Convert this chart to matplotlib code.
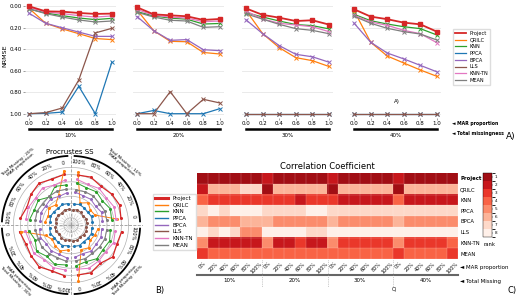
import numpy as np
import matplotlib
matplotlib.use('Agg')
import matplotlib.pyplot as plt
from matplotlib.lines import Line2D
from matplotlib.colors import ListedColormap, BoundaryNorm

W, H = 520, 296

methods = ['Project', 'QRILC', 'KNN', 'PPCA', 'BPCA', 'LLS', 'KNN-TN', 'MEAN']
colors = ['tab:red', 'tab:orange', 'tab:green', 'tab:blue',
          'tab:purple', 'tab:brown', 'tab:pink', 'tab:gray']
mar = [0.0, 0.2, 0.4, 0.6, 0.8, 1.0]
mar_labels = ['0%', '20%', '40%', '60%', '80%', '100%']
total_missing = ['10%', '20%', '30%', '40%']

# NRMSE, one row per total missingness (10..40%), columns = MAR proportion
nrmse_project = [[0.00, 0.047, 0.05, 0.062, 0.071, 0.068],
                 [0.01, 0.075, 0.084, 0.093, 0.127, 0.118],
                 [0.02, 0.08, 0.106, 0.137, 0.13, 0.17],
                 [0.028, 0.096, 0.12, 0.152, 0.168, 0.236]]
nrmse_qrilc = [[0.02, 0.158, 0.21, 0.255, 0.30, 0.31],
               [0.035, 0.227, 0.326, 0.33, 0.43, 0.444],
               [0.04, 0.255, 0.385, 0.478, 0.506, 0.56],
               [0.043, 0.335, 0.463, 0.528, 0.593, 0.652]]
nrmse_knn = [[0.025, 0.062, 0.087, 0.109, 0.124, 0.112],
             [0.05, 0.09, 0.11, 0.12, 0.165, 0.16],
             [0.06, 0.10, 0.137, 0.17, 0.18, 0.21],
             [0.075, 0.134, 0.165, 0.19, 0.208, 0.267]]
nrmse_ppca = [[1.0, 0.997, 0.985, 0.745, 1.0, 0.52],
              [1.0, 0.97, 1.0, 1.0, 1.0, 0.953],
              [1.0, 1.0, 1.0, 1.0, 1.0, 1.0],
              [1.0, 1.0, 1.0, 1.0, 1.0, 1.0]]
nrmse_bpca = [[0.065, 0.158, 0.20, 0.24, 0.28, 0.28],
              [0.096, 0.227, 0.317, 0.31, 0.404, 0.413],
              [0.127, 0.255, 0.366, 0.447, 0.47, 0.52],
              [0.158, 0.335, 0.435, 0.49, 0.55, 0.61]]
nrmse_lls = [[1.0, 0.99, 0.947, 0.686, 0.248, 0.205],
             [1.0, 1.0, 0.795, 1.0, 0.866, 0.90],
             [1.0, 1.0, 1.0, 1.0, 1.0, 1.0],
             [1.0, 1.0, 1.0, 1.0, 1.0, 1.0]]
nrmse_knntn = [[0.012, 0.053, 0.068, 0.087, 0.10, 0.09],
               [0.03, 0.084, 0.10, 0.11, 0.143, 0.137],
               [0.045, 0.118, 0.158, 0.174, 0.19, 0.236],
               [0.084, 0.146, 0.177, 0.224, 0.255, 0.339]]
nrmse_mean = [[0.025, 0.068, 0.10, 0.127, 0.146, 0.137],
              [0.056, 0.10, 0.13, 0.137, 0.196, 0.19],
              [0.07, 0.12, 0.168, 0.208, 0.224, 0.255],
              [0.093, 0.158, 0.205, 0.236, 0.258, 0.314]]
nrmse_all = [nrmse_project, nrmse_qrilc, nrmse_knn, nrmse_ppca,
             nrmse_bpca, nrmse_lls, nrmse_knntn, nrmse_mean]

# Procrustes SS radar (ring position, 24 conditions: 4 x 6)
pss_project = [7.0, 7.3, 7.1, 6.8, 7.2, 7.0, 7.1, 6.9, 7.3, 7.0, 6.6, 7.1,
               7.2, 6.8, 7.0, 7.3, 6.9, 7.1, 7.0, 7.2, 6.7, 7.3, 6.9, 7.1]
pss_qrilc = [6.4, 3.6, 3.4, 3.9, 3.3, 7.4, 7.6, 4.5, 3.5, 3.9, 3.4, 3.6,
             7.0, 3.8, 3.3, 3.6, 3.9, 3.5, 7.8, 3.7, 4.0, 3.4, 3.6, 3.8]
pss_knn = [5.7, 5.9, 5.5, 5.8, 5.6, 5.9, 5.6, 5.8, 4.9, 5.7, 5.5, 5.8,
           5.9, 5.4, 6.0, 5.5, 5.9, 5.6, 5.7, 5.5, 5.9, 5.6, 5.8, 5.5]
pss_ppca = [3.0, 3.1, 2.9, 3.0, 3.1, 2.9, 3.0, 3.1, 2.9, 3.0, 3.1, 2.9,
            3.0, 3.1, 2.9, 3.0, 3.1, 2.9, 3.0, 3.1, 2.9, 3.0, 3.1, 2.9]
pss_bpca = [4.4, 4.6, 4.3, 4.5, 4.4, 4.6, 4.5, 4.3, 4.6, 4.4, 4.5, 4.3,
            4.4, 4.6, 4.3, 4.5, 4.4, 4.6, 4.5, 4.3, 4.6, 4.4, 4.5, 4.3]
pss_lls = [2.2, 2.3, 2.1, 2.2, 2.3, 2.1, 2.2, 2.3, 2.1, 2.2, 2.3, 2.1,
           2.2, 2.3, 2.1, 2.2, 2.3, 2.1, 2.2, 2.3, 2.1, 2.2, 2.3, 2.1]
pss_knntn = [6.3, 6.5, 6.2, 6.4, 6.1, 6.4, 6.3, 6.0, 6.5, 6.2, 6.4, 6.3,
             6.4, 6.2, 6.5, 6.1, 6.4, 6.3, 6.2, 6.5, 6.3, 6.1, 6.4, 6.2]
pss_mean = [5.0, 5.1, 4.9, 5.1, 5.0, 4.9, 5.0, 5.1, 5.0, 4.9, 5.1, 5.0,
            5.0, 4.9, 5.1, 5.0, 4.9, 5.1, 5.0, 5.1, 4.9, 5.0, 5.1, 5.0]
pss_all = [pss_project, pss_qrilc, pss_knn, pss_ppca,
           pss_bpca, pss_lls, pss_knntn, pss_mean]

# Correlation coefficient ranks (1 = best), 24 conditions
rank_project = [1, 1, 1, 1, 1, 1, 2, 1, 1, 1, 1, 1, 2, 1, 1, 1, 1, 1, 2, 1, 1, 1, 1, 1]
rank_qrilc = [2, 6, 6, 6, 7, 7, 1, 6, 6, 6, 6, 6, 1, 6, 6, 6, 6, 6, 1, 6, 6, 6, 6, 6]
rank_knn = [4, 3, 3, 3, 3, 3, 3, 3, 3, 2, 3, 3, 3, 2, 2, 2, 2, 2, 4, 2, 2, 2, 2, 2]
rank_ppca = [7, 8, 7, 8, 8, 8, 7, 7, 7, 7, 8, 8, 7, 7, 7, 7, 7, 7, 7, 7, 7, 7, 7, 7]
rank_bpca = [6, 5, 5, 5, 6, 6, 6, 5, 5, 5, 5, 5, 6, 5, 5, 5, 5, 5, 6, 5, 5, 5, 5, 5]
rank_lls = [8, 7, 8, 7, 5, 5, 8, 8, 8, 8, 7, 7, 8, 8, 8, 8, 8, 8, 8, 8, 8, 8, 8, 8]
rank_knntn = [5, 2, 2, 2, 2, 2, 5, 2, 2, 3, 2, 2, 5, 3, 3, 3, 3, 3, 5, 3, 3, 3, 3, 4]
rank_mean = [3, 4, 4, 4, 4, 4, 4, 4, 4, 4, 4, 4, 4, 4, 4, 4, 4, 4, 3, 4, 4, 4, 4, 3]
rank_all = [rank_project, rank_qrilc, rank_knn, rank_ppca,
            rank_bpca, rank_lls, rank_knntn, rank_mean]


def fx(x):
    return x / W


def fy(y):
    return 1 - y / H


def rect(l, t, r, b):
    return [fx(l), fy(b), (r - l) / W, (b - t) / H]


fig = plt.figure(figsize=(W / 100, H / 100), dpi=100)
fs = 4

# ---------------- A) NRMSE line panels ----------------
lefts = [25, 133, 242, 350]
for i in range(4):
    ax = fig.add_axes(rect(lefts[i], 2, lefts[i] + 91, 118))
    for m in range(len(methods)):
        if m == 0:
            ax.plot(mar, nrmse_all[m][i], color=colors[m], marker='s', ms=2.6,
                    lw=1.3, zorder=10)
        else:
            ax.plot(mar, nrmse_all[m][i], color=colors[m], marker='x', ms=2.2,
                    mew=0.7, lw=0.9, zorder=6 if m == 5 else 4)
    ax.set_xlim(-0.05, 1.05)
    ax.set_ylim(1.04, -0.04)
    ax.set_yticks([0, 0.2, 0.4, 0.6, 0.8, 1.0])
    ax.set_xticks(mar)
    ax.set_xticklabels(['%.1f' % v for v in mar], fontsize=fs)
    ax.grid(axis='y', color='#e6e6e6', lw=0.6)
    ax.tick_params(length=1.5, width=0.4, pad=1, labelsize=fs, color='#555555')
    for s in ax.spines.values():
        s.set_visible(False)
    if i == 0:
        ax.set_yticklabels(['%.2f' % v for v in [0, 0.2, 0.4, 0.6, 0.8, 1.0]])
    else:
        ax.tick_params(axis='y', left=False, labelleft=False)
    x0 = lefts[i] + 4
    fig.add_artist(Line2D([fx(x0), fx(x0 + 83)], [fy(129), fy(129)],
                          color='black', lw=1.8))
    fig.text(fx(x0 + 41.5), fy(135), total_missing[i], fontsize=fs,
             ha='center', va='center')
fig.text(fx(5), fy(56), 'NRMSE', fontsize=4.6, rotation=90, ha='center',
         va='center')

handles = [Line2D([], [], color=c, lw=1.3 if k == 0 else 0.9)
           for k, c in enumerate(colors)]
fig.legend(handles, methods, loc='upper left', bbox_to_anchor=(fx(450), fy(26)),
           fontsize=3.6, handlelength=2.2, labelspacing=0.35, borderpad=0.4,
           frameon=True, edgecolor='#dddddd', framealpha=1, fancybox=False)
fig.text(fx(452), fy(124), '\u25c4 MAR proportion', fontsize=3.3, weight='bold',
         va='center')
fig.text(fx(452), fy(134), '\u25c4 Total missingness', fontsize=3.3, weight='bold',
         va='center')
fig.text(fx(397), fy(102), 'A)', fontsize=fs, ha='center', va='center')
fig.text(fx(511), fy(137), 'A)', fontsize=6.5, ha='center', va='center')

# ---------------- B) Procrustes SS radar ----------------
cx, cy, R = 71, 225, 72
pax = fig.add_axes(rect(cx - R, cy - R, cx + R, cy + R), projection='polar')
theta = np.deg2rad(7.5 + 15 * np.arange(24))
pax.set_ylim(0, 10)
pax.set_yticks([1, 2, 3, 4, 5, 6, 7, 8])
pax.set_yticklabels([])
pax.set_xticks(np.deg2rad([0, 90, 180, 270]))
pax.set_xticklabels([])
pax.grid(True, color='#b0b0b0', lw=0.5)
pax.xaxis.grid(True, color='#999999', lw=0.6, ls='--')
pax.spines['polar'].set_visible(False)
pax.set_facecolor('none')
for t in theta:
    pax.plot([t, t], [0, 1.6], color='#cccccc', lw=0.4, zorder=1)
for m in range(len(methods)):
    tt = []
    rr = []
    for q in range(4):
        tt += list(theta[q * 6:(q + 1) * 6]) + [np.nan]
        rr += list(pss_all[m][q * 6:(q + 1) * 6]) + [np.nan]
    pax.plot(tt, rr, color=colors[m], lw=0.9 if m == 0 else 0.7,
             marker='o', ms=1.2, zorder=5)
for q in range(4):
    for k in range(6):
        lab = '0' if k == 0 else mar_labels[k]
        pax.text(theta[q * 6 + k], 8.7, lab, fontsize=3.6, ha='center',
                 va='center', rotation=np.rad2deg(theta[q * 6 + k]) - 90)
    aa = np.linspace(np.deg2rad(90 * q + 3), np.deg2rad(90 * q + 87), 60)
    pax.plot(aa, np.full_like(aa, 9.6), color='black', lw=1.3, clip_on=False)
quad_text = ['Total Missing : 10%\nMAR proportion',
             'Total Missing : 20%\nMAR proportion',
             'MAR proportion\nTotal Missing : 30%',
             'MAR proportion\nTotal Missing : 40%']
quad_ang = [50, 130, 225, 315]
quad_rot = [-40, 40, -45, 45]
quad_r = [11.2, 11.2, 10.7, 10.7]
for q in range(4):
    pax.text(np.deg2rad(quad_ang[q]), quad_r[q], quad_text[q], fontsize=3.2,
             ha='center', va='center', rotation=quad_rot[q], clip_on=False,
             linespacing=1.0)
fig.text(fx(70), fy(152), 'Procrustes SS', fontsize=5, ha='center', va='center')
handles_b = [Line2D([], [], color=c, lw=2.2 if k == 0 else 1.0)
             for k, c in enumerate(colors)]
fig.legend(handles_b, methods, loc='upper left', bbox_to_anchor=(fx(150), fy(191)),
           fontsize=4, handlelength=2.4, labelspacing=0.3, borderpad=0.4,
           frameon=True, edgecolor='#dddddd', framealpha=1, fancybox=False)
fig.text(fx(160), fy(291), 'B)', fontsize=6, ha='center', va='center')

# ---------------- C) Correlation coefficient heatmap ----------------
hax = fig.add_axes(rect(197, 173, 458, 259))
cmap = ListedColormap(plt.cm.Reds(np.linspace(0.88, 0.03, 8)))
norm = BoundaryNorm(np.arange(0.5, 9.5, 1), 8)
im = hax.imshow(np.array(rank_all), cmap=cmap, norm=norm, aspect='auto')
hax.set_xticks(np.arange(24) + 0.5, minor=True)
hax.set_yticks(np.arange(8) + 0.5, minor=True)
hax.grid(which='minor', color='white', lw=0.2, alpha=0.6)
hax.tick_params(which='minor', length=0)
hax.set_xticks(np.arange(24))
hax.set_xticklabels(mar_labels * 4, rotation=45, fontsize=3.5)
hax.yaxis.tick_right()
hax.set_yticks(np.arange(8))
hax.set_yticklabels(methods, fontsize=3.8)
hax.get_yticklabels()[0].set_weight('bold')
hax.tick_params(length=0, pad=1.5)
for s in hax.spines.values():
    s.set_visible(False)
hax.set_title('Correlation Coefficient', fontsize=6, pad=3)

cax = fig.add_axes(rect(483, 173, 492, 237))
cb = fig.colorbar(im, cax=cax, ticks=np.arange(1, 9))
cb.ax.invert_yaxis()
cb.ax.tick_params(labelsize=3, length=1, width=0.3, pad=1)
cb.outline.set_linewidth(0.3)
fig.text(fx(489), fy(244), 'rank', fontsize=3.8, ha='center', va='center')

fig.add_artist(Line2D([fx(197), fx(458)], [fy(275), fy(275)],
                      color='#666666', lw=1.5))
for b in [262.25, 327.5, 392.75]:
    fig.add_artist(Line2D([fx(b), fx(b)], [fy(260), fy(287)],
                          color='#999999', lw=0.5, ls=':'))
for g in range(4):
    fig.text(fx(197 + 65.25 * g + 32.6), fy(281), total_missing[g], fontsize=fs,
             ha='center', va='center')
fig.text(fx(460), fy(267), '\u25c4 MAR proportion', fontsize=fs, va='center')
fig.text(fx(460), fy(281), '\u25c4 Total Missing', fontsize=fs, va='center')
fig.text(fx(394), fy(289), 'C)', fontsize=3.5, ha='center', va='center')
fig.text(fx(512), fy(291), 'C)', fontsize=6, ha='center', va='center')

fig.savefig('out.png', dpi=100)
